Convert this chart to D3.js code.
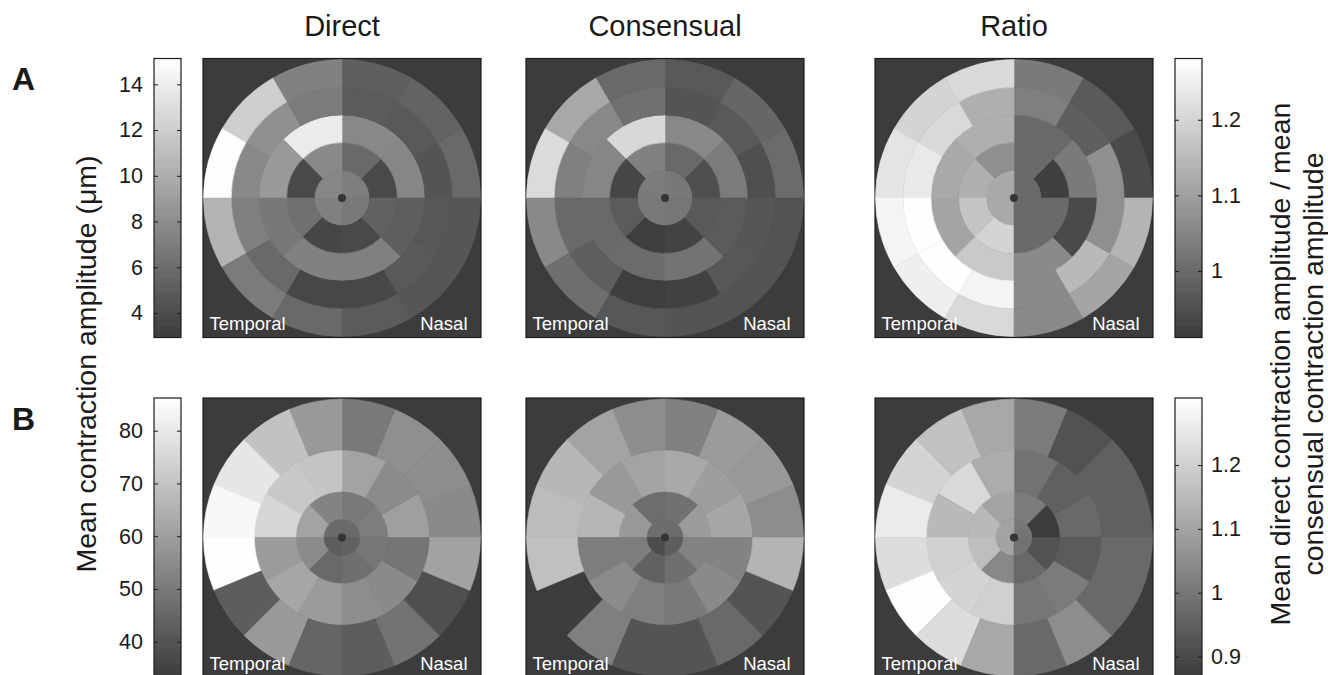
<!DOCTYPE html>
<html>
<head>
<meta charset="utf-8">
<script src="https://cdn.jsdelivr.net/npm/d3@7/dist/d3.min.js"></script>
<style>
  html, body { margin: 0; padding: 0; background: #fff; }
  svg { display: block; }
</style>
</head>
<body>
<svg id="chart" width="1328" height="675"></svg>
<script>
// ---- Data --------------------------------------------------------------
// Each panel is a list of rings (centre outwards); each ring lists sector
// values starting at the nasal horizontal (0 deg) and going counter-clockwise.
const columnTitles = ["Direct", "Consensual", "Ratio"];
const rowLetters = ["A", "B"];

// Stimulus layouts: ring boundaries (fraction of field radius) and sector counts
const ringEdgesA = [0, 0.2, 0.4, 0.6, 0.8, 1];
const sectorCountsA = [4, 8, 8, 12, 12];
const ringEdgesB = [0, 0.133, 0.333, 0.633, 1];
const sectorCountsB = [4, 8, 12, 16];

// Row A: mean contraction amplitude (um) and direct/consensual ratio
const directA = [
  [7.1, 7.6, 7.2, 6.8],
  [3.8, 5.8, 7.8, 3.8, 6.2, 3.6, 3.8, 5.3],
  [7.6, 7.7, 13.9, 8.8, 6.7, 7.2, 7.2, 5.1],
  [4.5, 4.8, 4.9, 6.9, 8.2, 7.8, 7.2, 5.8, 3.7, 3.7, 4.8, 4.7],
  [5.8, 5.4, 5.1, 7.3, 12.1, 15.0, 10.4, 6.9, 5.8, 4.9, 4.6, 4.6]
];
const consensualA = [
  [6.7, 6.9, 6.8, 6.6],
  [4.1, 5.8, 7.3, 3.6, 4.9, 3.1, 3.4, 4.8],
  [6.9, 7.7, 12.7, 7.6, 5.8, 5.9, 6.4, 4.9],
  [4.2, 4.8, 4.5, 6.2, 7.7, 7.2, 5.8, 5.1, 3.1, 3.3, 4.7, 4.6],
  [5.9, 5.6, 4.8, 5.8, 9.7, 12.9, 7.8, 6.1, 4.7, 4.5, 4.5, 4.4]
];
const ratioA = [
  [1.00, 1.12, 1.12, 1.00],
  [0.92, 1.00, 1.07, 1.13, 1.17, 1.20, 1.00, 1.00],
  [1.03, 1.00, 1.13, 1.12, 1.11, 1.18, 1.06, 0.94],
  [1.07, 0.98, 1.04, 1.13, 1.21, 1.24, 1.28, 1.28, 1.26, 1.06, 1.15, 1.07],
  [0.94, 0.97, 1.03, 1.21, 1.20, 1.23, 1.26, 1.25, 1.21, 1.06, 1.11, 1.14]
];

// Row B
const directB = [
  [46.0, 46.0, 42.5, 43.6],
  [51.2, 50.1, 52.8, 61.5, 55.0, 45.8, 47.4, 49.6],
  [60.4, 55.0, 61.5, 70.2, 71.3, 75.1, 59.3, 62.1, 59.3, 55.5, 54.5, 49.0],
  [54.5, 55.5, 56.1, 50.1, 58.8, 69.7, 79.4, 84.3, 86.0, 42.5, 58.8, 44.7, 42.5, 48.5, 38.7, 61.0]
];
const consensualB = [
  [46.3, 46.9, 38.2, 42.5],
  [59.3, 47.9, 46.9, 58.8, 51.2, 43.6, 47.4, 52.8],
  [62.1, 59.9, 63.1, 61.5, 58.8, 66.4, 51.2, 55.0, 51.7, 50.1, 54.5, 52.8],
  [55.5, 58.8, 59.3, 52.3, 55.5, 61.5, 66.9, 68.0, 69.1, NaN, 51.7, 40.1, 40.1, 45.8, 40.1, 65.9]
];
const ratioB = [
  [1.00, 1.10, 1.10, 0.99],
  [0.87, 1.01, 1.10, 1.15, 1.16, 1.04, 0.97, 0.92],
  [0.97, 0.95, 0.99, 1.12, 1.22, 1.15, 1.20, 1.21, 1.20, 1.00, 1.01, 0.94],
  [0.95, 0.95, 0.92, 1.01, 1.11, 1.17, 1.21, 1.26, 1.23, 1.30, 1.23, 1.11, 0.97, 1.05, 0.97, 0.97]
];

// Colour-bar limits and ticks
const amplitudeDomainA = [2.93, 15.13];
const ratioDomainA = [0.912, 1.281];
const amplitudeDomainB = [33.3, 86.2];
const ratioDomainB = [0.868, 1.305];
const amplitudeTicksA = [4, 6, 8, 10, 12, 14];
const ratioTicksA = [1, 1.1, 1.2];
const amplitudeTicksB = [40, 50, 60, 70, 80];
const ratioTicksB = [0.9, 1, 1.1, 1.2];

const leftAxisTitle = "Mean contraction amplitude (\u03bcm)";
const rightAxisTitle = ["Mean direct contraction amplitude / mean", "consensual contraction amplitude"];

// ---- Layout ------------------------------------------------------------
const FONT = "'Liberation Sans', Arial, Helvetica, sans-serif";
const TEXT = "#1a1a1a";
const BG = "#3c3c3c";
const CMAP_LO = "#3b3b3b", CMAP_HI = "#ffffff";

const panelW = 278, panelH = 279;
const panelLeft = [203, 526, 875];
const rowTop = [58.5, 398];
const fieldR = 138.5;
const cbarW = 27, cbarLeftX = 154, cbarRightX = 1175;

const rows = [
  { letter: rowLetters[0], edges: ringEdgesA, counts: sectorCountsA,
    panels: [directA, consensualA, ratioA],
    ampDomain: amplitudeDomainA, ratioDomain: ratioDomainA,
    ampTicks: amplitudeTicksA, ratioTicks: ratioTicksA },
  { letter: rowLetters[1], edges: ringEdgesB, counts: sectorCountsB,
    panels: [directB, consensualB, ratioB],
    ampDomain: amplitudeDomainB, ratioDomain: ratioDomainB,
    ampTicks: amplitudeTicksB, ratioTicks: ratioTicksB }
];

const svg = d3.select("#chart");
const deg = Math.PI / 180;

// Column titles
svg.selectAll("text.coltitle")
  .data(columnTitles)
  .join("text")
  .attr("class", "coltitle")
  .attr("x", (d, i) => panelLeft[i] + panelW / 2)
  .attr("y", 36)
  .attr("text-anchor", "middle")
  .attr("font-family", FONT)
  .attr("font-size", 29)
  .attr("fill", TEXT)
  .text(d => d);

rows.forEach((row, r) => {
  const top = rowTop[r];
  const radius = d3.scaleLinear().domain([0, 1]).range([0, fieldR]);
  const ampColor = d3.scaleLinear().domain(row.ampDomain).range([CMAP_LO, CMAP_HI]).clamp(true);
  const ratioColor = d3.scaleLinear().domain(row.ratioDomain).range([CMAP_LO, CMAP_HI]).clamp(true);
  const colorFor = [ampColor, ampColor, ratioColor];

  // Row letter
  svg.append("text")
    .attr("x", 12)
    .attr("y", top + 31.5)
    .attr("font-family", FONT)
    .attr("font-weight", "bold")
    .attr("font-size", 32)
    .attr("fill", TEXT)
    .text(row.letter);

  row.panels.forEach((rings, c) => {
    const x0 = panelLeft[c];
    const g = svg.append("g");
    g.append("rect")
      .attr("x", x0).attr("y", top)
      .attr("width", panelW).attr("height", panelH)
      .attr("fill", BG)
      .attr("stroke", "#1c1c1c").attr("stroke-width", 1.2);

    const cx = x0 + panelW / 2, cy = top + panelH / 2;
    const field = g.append("g").attr("transform", `translate(${cx},${cy})`);

    // Flatten rings into sector records
    const sectors = [];
    rings.forEach((vals, k) => {
      const n = row.counts[k];
      vals.forEach((v, i) => {
        const t1 = i * 360 / n, t2 = (i + 1) * 360 / n; // ccw from nasal horizontal
        sectors.push({
          value: v,
          innerRadius: radius(row.edges[k]),
          outerRadius: radius(row.edges[k + 1]),
          startAngle: (90 - t2) * deg,
          endAngle: (90 - t1) * deg
        });
      });
    });

    const arc = d3.arc();
    field.selectAll("path")
      .data(sectors.filter(s => !isNaN(s.value)))
      .join("path")
      .attr("d", arc)
      .attr("fill", d => colorFor[c](d.value))
      .attr("stroke", d => colorFor[c](d.value))
      .attr("stroke-width", 0.6);

    field.append("circle").attr("r", 4).attr("fill", "#353535");

    g.append("text")
      .attr("x", x0 + 6.5).attr("y", top + 271.5)
      .attr("font-family", FONT).attr("font-size", 18.5)
      .attr("fill", "#ffffff")
      .text("Temporal");
    g.append("text")
      .attr("x", x0 + panelW - 13.5).attr("y", top + 271.5)
      .attr("text-anchor", "end")
      .attr("font-family", FONT).attr("font-size", 18.5)
      .attr("fill", "#ffffff")
      .text("Nasal");
  });

  // Colour bars
  const drawBar = (x, domain, colour, ticks, side) => {
    const y = d3.scaleLinear().domain(domain).range([top + panelH, top]);
    const steps = 64;
    const levels = d3.range(steps).map(i => domain[0] + (domain[1] - domain[0]) * (i + 0.5) / steps);
    const bandH = panelH / steps;
    const bar = svg.append("g");
    bar.selectAll("rect")
      .data(levels)
      .join("rect")
      .attr("x", x).attr("width", cbarW)
      .attr("y", d => y(d) - bandH / 2 - 0.3)
      .attr("height", bandH + 0.6)
      .attr("fill", d => colour(d));
    bar.append("rect")
      .attr("x", x).attr("y", top).attr("width", cbarW).attr("height", panelH)
      .attr("fill", "none").attr("stroke", "#1c1c1c").attr("stroke-width", 1.2);

    const fmt = d => String(d);
    const labelled = side === "left"
      ? d3.axisLeft(y).tickValues(ticks).tickSize(-4).tickPadding(11).tickFormat(fmt)
      : d3.axisRight(y).tickValues(ticks).tickSize(-4).tickPadding(9).tickFormat(fmt);
    const plain = side === "left"
      ? d3.axisRight(y).tickValues(ticks).tickSize(-4).tickFormat("")
      : d3.axisLeft(y).tickValues(ticks).tickSize(-4).tickFormat("");
    const lx = side === "left" ? x : x + cbarW;
    const px = side === "left" ? x + cbarW : x;
    [[labelled, lx], [plain, px]].forEach(([ax, ox]) => {
      const a = svg.append("g").attr("transform", `translate(${ox},0)`).call(ax);
      a.select(".domain").remove();
      a.selectAll(".tick line").attr("stroke", "#1c1c1c").attr("stroke-width", 1);
      a.selectAll(".tick text")
        .attr("font-family", FONT).attr("font-size", 21.5).attr("fill", TEXT);
    });
  };
  drawBar(cbarLeftX, row.ampDomain, ampColor, row.ampTicks, "left");
  drawBar(cbarRightX, row.ratioDomain, ratioColor, row.ratioTicks, "right");
});

// Axis titles
svg.append("text")
  .attr("transform", "translate(96,364) rotate(-90)")
  .attr("text-anchor", "middle")
  .attr("font-family", FONT).attr("font-size", 28.5).attr("fill", TEXT)
  .text(leftAxisTitle);

svg.selectAll("text.rtitle")
  .data(rightAxisTitle)
  .join("text")
  .attr("class", "rtitle")
  .attr("transform", (d, i) => `translate(${1290 + i * 33},364) rotate(-90)`)
  .attr("text-anchor", "middle")
  .attr("font-family", FONT).attr("font-size", 28.5).attr("fill", TEXT)
  .text(d => d);
</script>
</body>
</html>
